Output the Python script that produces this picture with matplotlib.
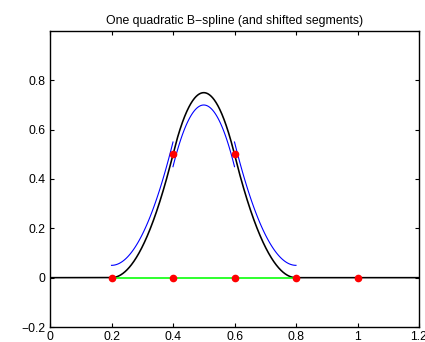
import numpy as np
import matplotlib
matplotlib.use("Agg")
import matplotlib.pyplot as plt

plt.rcParams['font.family'] = ['Liberation Sans', 'DejaVu Sans']

# Data
knots = [0.2, 0.4, 0.6, 0.8]          # support knots of the quadratic B-spline
dot_x = [0.2, 0.4, 0.6, 0.8, 1.0]     # knot markers on the axis
dot_y = [0, 0, 0, 0, 0]
mid_x = [0.4, 0.6]                     # spline values at interior knots
mid_y = [0.5, 0.5]
seg_shift = [0.05, -0.05, 0.05]        # vertical shift of each plotted segment
x_range = [0, 1.2]
y_range = [-0.2, 1.0]
xticks = [0, 0.2, 0.4, 0.6, 0.8, 1, 1.2]
xtick_labels = ['0', '0.2', '0.4', '0.6', '0.8', '1', '1.2']
yticks = [-0.2, 0, 0.2, 0.4, 0.6, 0.8]
ytick_labels = ['\u22120.2', '0', '0.2', '0.4', '0.6', '0.8']
title = 'One quadratic B\u2212spline (and shifted segments)'

t0, t1, t2, t3 = knots
h = t1 - t0


def piece(i, x):
    u = (x - t0) / h
    if i == 0:
        return u ** 2 / 2
    if i == 1:
        return -u ** 2 + 3 * u - 1.5
    return (3 - u) ** 2 / 2


def bspline(x):
    y = np.zeros_like(x)
    for i in range(3):
        m = (x >= knots[i]) & (x <= knots[i + 1])
        y[m] = piece(i, x[m])
    return y


fig = plt.figure(figsize=(4.25, 3.42), dpi=100)
ax = fig.add_axes([50 / 425, 15 / 342, 369 / 425, 296 / 342])

xx = np.linspace(x_range[0], x_range[1], 1201)
ax.plot(xx, bspline(xx), color='black', lw=1.15, zorder=2)
ax.plot([t0, t3], [0, 0], color='#00ff00', lw=1.15, zorder=3)

for i in range(3):
    xs = np.linspace(knots[i], knots[i + 1], 100)
    ax.plot(xs, piece(i, xs) + seg_shift[i], color='#0000ff', lw=0.8, zorder=2)

ax.plot(dot_x, dot_y, 'o', color='red', ms=4.5, mec='red', zorder=4)
ax.plot(mid_x, mid_y, 'o', color='red', ms=4.5, mec='red', zorder=4)

ax.set_xlim(x_range)
ax.set_ylim(y_range)
ax.set_xticks(xticks)
ax.set_xticklabels(xtick_labels)
ax.set_yticks(yticks)
ax.set_yticklabels(ytick_labels)
ax.tick_params(direction='in', length=3, width=0.8, labelsize=8.8,
               top=True, right=True, pad=3)
for s in ax.spines.values():
    s.set_linewidth(1.0)
ax.set_title(title, fontsize=8.8, pad=5)

fig.savefig('out.png', dpi=100)
